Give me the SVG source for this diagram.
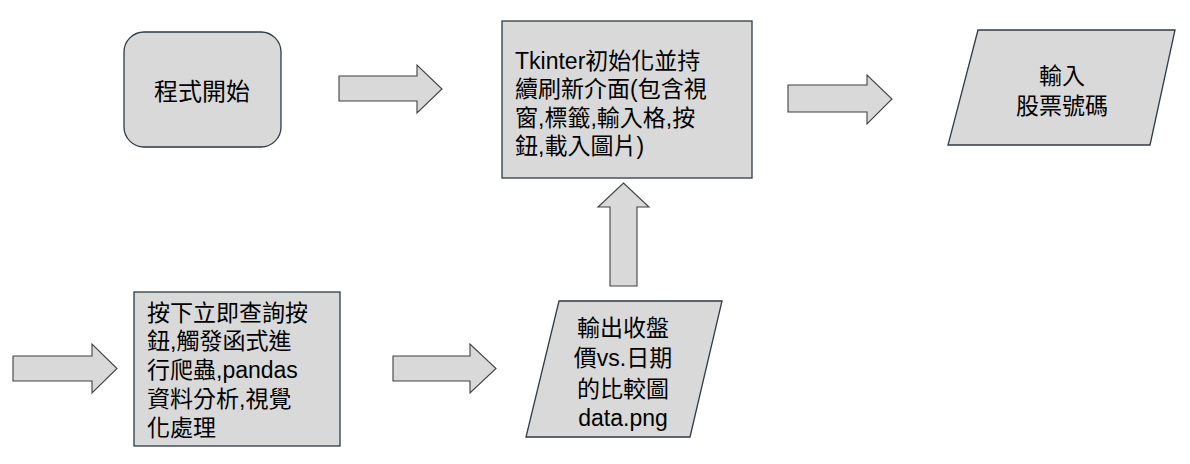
<svg xmlns="http://www.w3.org/2000/svg" width="1190" height="464" viewBox="0 0 1190 464">
<style>
.shape{fill:#d9d9d9;stroke:#2f3b45;stroke-width:1.3}
.arrow{fill:#d9d9d9;stroke:#404040;stroke-width:1.1}
.t{font-family:"Liberation Sans","Noto Sans CJK TC",sans-serif;font-size:23px;fill:#000}
.c{text-anchor:middle}
</style>
<rect width="1190" height="464" fill="#fff"/>
<g id="start">
<rect class="shape" x="124" y="32" width="157" height="115" rx="20" ry="20"/>
<text class="t c" x="202" y="100" style="font-size:24px">程式開始</text>
</g>
<g id="tkinter">
<rect class="shape" x="502" y="21" width="250" height="157"/>
<text class="t"><tspan x="515" y="68.5">Tkinter初始化並持</tspan><tspan x="515" y="97">續刷新介面(包含視</tspan><tspan x="515" y="125.5">窗,標籤,輸入格,按</tspan><tspan x="515" y="154">鈕,載入圖片)</tspan></text>
</g>
<g id="input">
<polygon class="shape" points="978,30 1175,30 1150,145 948,145"/>
<text class="t c"><tspan x="1062" y="84">輸入</tspan><tspan x="1062" y="114">股票號碼</tspan></text>
</g>
<g id="process">
<rect class="shape" x="134" y="292" width="206" height="154"/>
<text class="t"><tspan x="147" y="320.5">按下立即查詢按</tspan><tspan x="147" y="349">鈕,觸發函式進</tspan><tspan x="147" y="378">行爬蟲,pandas</tspan><tspan x="147" y="406.5">資料分析,視覺</tspan><tspan x="147" y="435.5">化處理</tspan></text>
</g>
<g id="output">
<polygon class="shape" points="559,301 722,301 690,437 526,437"/>
<text class="t c"><tspan x="623" y="336">輸出收盤</tspan><tspan x="623" y="366">價vs.日期</tspan><tspan x="623" y="396.5">的比較圖</tspan><tspan x="623" y="426">data.png</tspan></text>
</g>
<g id="connectors">
<polygon class="arrow" points="339,76 417,76 417,65 442,89 417,113 417,101 339,101"/>
<polygon class="arrow" points="788,85 867,85 867,75 892,99 867,124 867,112 788,112"/>
<polygon class="arrow" points="610,286 610,207 598,207 623.5,183 649,207 637,207 637,286"/>
<polygon class="arrow" points="13,356 92,356 92,344 117,368.5 92,393 92,381 13,381"/>
<polygon class="arrow" points="393,356 470,356 470,344 496,368.5 470,393 470,381 393,381"/>
</g>
</svg>
